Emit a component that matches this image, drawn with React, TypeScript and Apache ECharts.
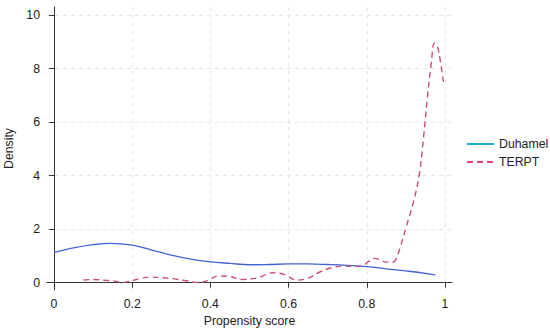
import React, { useEffect, useRef } from "react";
import * as echarts from "echarts";

const xTicks = [0, 0.2, 0.4, 0.6, 0.8, 1];
const yTicks = [0, 2, 4, 6, 8, 10];

const duhamelX = [0, 0.05, 0.1, 0.143, 0.2, 0.25, 0.3, 0.35, 0.4, 0.45, 0.5, 0.55, 0.6, 0.65, 0.7, 0.75, 0.8, 0.85, 0.9, 0.95, 0.975];
const duhamelY = [1.13, 1.3, 1.42, 1.47, 1.4, 1.22, 1.03, 0.88, 0.78, 0.72, 0.67, 0.68, 0.7, 0.7, 0.68, 0.65, 0.6, 0.52, 0.44, 0.35, 0.29];

const terptX = [0.075, 0.1, 0.13, 0.15, 0.177, 0.2, 0.225, 0.245, 0.275, 0.304, 0.335, 0.364, 0.385, 0.4, 0.42, 0.45, 0.48, 0.52, 0.56, 0.59, 0.62, 0.65, 0.68, 0.71, 0.74, 0.77, 0.79, 0.805, 0.82, 0.84, 0.86, 0.872, 0.885, 0.9, 0.92, 0.935, 0.945, 0.955, 0.965, 0.973, 0.98, 0.988, 0.996];
const terptY = [0.1, 0.12, 0.09, 0.07, 0.01, 0.08, 0.17, 0.21, 0.19, 0.15, 0.08, 0.01, 0.04, 0.14, 0.25, 0.23, 0.12, 0.18, 0.37, 0.3, 0.1, 0.17, 0.4, 0.56, 0.62, 0.61, 0.64, 0.8, 0.91, 0.8, 0.76, 0.82, 1.3, 2.05, 3.05, 4.1, 5.4, 6.9, 8.2, 8.95, 8.85, 8.3, 7.5];

const seriesNames = ["Duhamel", "TERPT"];

export default function App() {
  const ref = useRef<HTMLDivElement>(null);
  useEffect(() => {
    if (!ref.current) return;
    const chart = echarts.init(ref.current, undefined, { renderer: "svg" });
    const font = "Liberation Sans, Arial, sans-serif";
    const fs = 12.3;
    const axisCommon = {
      axisLine: { show: true, lineStyle: { color: "#333", width: 1 } },
      axisTick: { show: true, length: 5, inside: false, lineStyle: { color: "#333" } },
      splitLine: { show: true, lineStyle: { color: "#e6e6e6", type: [4, 4], width: 1 } },
      nameTextStyle: { color: "#222", fontSize: fs, fontFamily: font },
    };
    chart.setOption({
      animation: false,
      backgroundColor: "#fff",
      grid: { left: 47, right: 98, top: 7, bottom: 40, containLabel: false, outerBoundsMode: "none" },
      legend: {
        orient: "vertical",
        left: 461,
        top: 133,
        itemWidth: 27,
        itemHeight: 10,
        itemGap: 6,
        itemStyle: { opacity: 0 },
        textStyle: { color: "#222", fontSize: fs, fontFamily: font },
        data: [
          { name: seriesNames[0], lineStyle: { color: "#18aed6" } },
          { name: seriesNames[1], lineStyle: { color: "#ec3d78" } },
        ],
      },
      xAxis: {
        type: "value",
        min: -0.018,
        max: 1.018,
        name: "Propensity score",
        nameLocation: "middle",
        nameGap: 22,
        ...axisCommon,
        axisTick: { ...axisCommon.axisTick, customValues: xTicks },
        axisLabel: { customValues: xTicks, color: "#222", fontSize: fs, fontFamily: font, margin: 8 },
      },
      yAxis: {
        type: "value",
        min: -0.273,
        max: 10.3,
        name: "Density",
        nameLocation: "middle",
        nameGap: 28,
        ...axisCommon,
        axisTick: { ...axisCommon.axisTick, customValues: yTicks },
        axisLabel: { customValues: yTicks, color: "#222", fontSize: fs, fontFamily: font, margin: 7 },
      },
      series: [
        {
          name: seriesNames[0],
          type: "line",
          symbol: "none",
          smooth: 0.4,
          data: duhamelX.map((x, i) => [x, duhamelY[i]]),
          lineStyle: { color: "#3f63d6", width: 1.3 },
          itemStyle: { color: "#3f63d6" },
        },
        {
          name: seriesNames[1],
          type: "line",
          symbol: "none",
          smooth: 0.4,
          data: terptX.map((x, i) => [x, terptY[i]]),
          lineStyle: { color: "#c8507e", width: 1.4, type: [6, 4] },
          itemStyle: { color: "#c8507e" },
        },
      ],
    });
    return () => chart.dispose();
  }, []);
  return <div ref={ref} style={{ position: "fixed", left: 0, top: 0, width: 550, height: 330 }} />;
}
